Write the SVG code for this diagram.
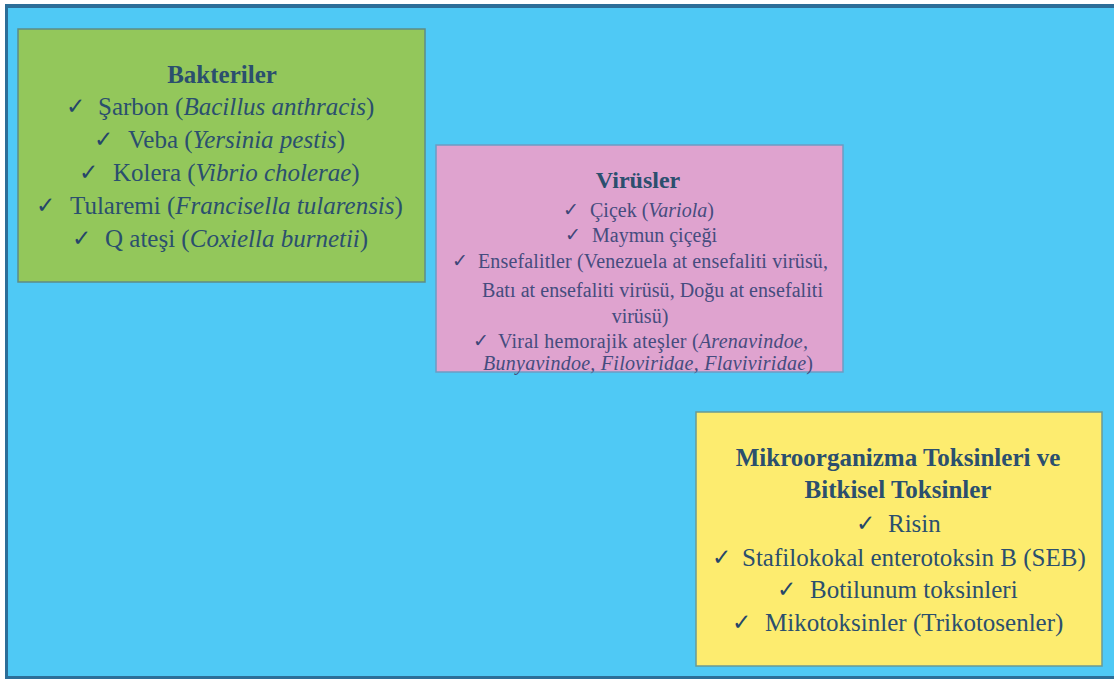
<svg xmlns="http://www.w3.org/2000/svg" width="1114" height="679" viewBox="0 0 1114 679">
<style>
.t{font-family:"Liberation Serif","Times New Roman",serif;font-size:25px;fill:#2B4F6E}
.h{font-weight:bold;text-anchor:middle}
.c{font-family:"DejaVu Sans",sans-serif;font-size:23px;fill:#26466A}
.pc{font-family:"DejaVu Sans",sans-serif;font-size:19px;fill:#3E4678}
.p{font-family:"Liberation Serif","Times New Roman",serif;font-size:20px;fill:#454C7E}
.i{font-style:italic}
.box{stroke-width:1.5}
</style>
<rect x="0" y="0" width="1114" height="679" fill="#ffffff"/>
<rect x="6" y="5" width="1108" height="674" fill="#4FC9F5"/>
<rect x="6" y="4" width="1108" height="4" fill="#2C6E98"/>
<rect x="5" y="4" width="3" height="675" fill="#2C6E98"/>
<rect x="6" y="676" width="1108" height="3" fill="#2C6E98"/>

<g id="bakteriler">
<rect class="box" x="18" y="29" width="407" height="253" fill="#93C75B" stroke="#5E8C86"/>
<text class="t h" x="222" y="83">Bakteriler</text>
<text class="c" x="66" y="114">✓</text><text class="t" x="98" y="115">Şarbon (<tspan class="i">Bacillus anthracis</tspan>)</text>
<text class="c" x="94" y="147">✓</text><text class="t" x="128" y="148">Veba (<tspan class="i">Yersinia pestis</tspan>)</text>
<text class="c" x="79" y="180">✓</text><text class="t" x="113" y="181">Kolera (<tspan class="i">Vibrio cholerae</tspan>)</text>
<text class="c" x="36" y="213">✓</text><text class="t" x="70" y="214">Tularemi (<tspan class="i">Francisella tularensis</tspan>)</text>
<text class="c" x="72" y="246">✓</text><text class="t" x="105" y="247">Q ateşi (<tspan class="i">Coxiella burnetii</tspan>)</text>
</g>

<g id="virusler">
<rect class="box" x="436" y="145" width="407" height="227" fill="#DFA3CF" stroke="#6C9CC4"/>
<text class="t h" x="638" y="188" style="font-size:24px">Virüsler</text>
<text class="pc" x="563" y="216">✓</text><text class="p" x="590" y="217">Çiçek (<tspan class="i">Variola</tspan>)</text>
<text class="pc" x="565" y="241">✓</text><text class="p" x="592" y="242">Maymun çiçeği</text>
<text class="pc" x="452" y="267">✓</text><text class="p" x="478" y="268" textLength="350" lengthAdjust="spacing">Ensefalitler (Venezuela at ensefaliti virüsü,</text>
<text class="p" x="482" y="297" textLength="341" lengthAdjust="spacing">Batı at ensefaliti virüsü, Doğu at ensefaliti</text>
<text class="p" x="640" y="323" text-anchor="middle">virüsü)</text>
<text class="pc" x="473" y="347">✓</text><text class="p" x="498" y="348" textLength="310" lengthAdjust="spacing">Viral hemorajik ateşler (<tspan class="i">Arenavindoe,</tspan></text>
<text class="p i" x="483" y="370" textLength="330" lengthAdjust="spacing">Bunyavindoe, Filoviridae, Flaviviridae<tspan style="font-style:normal">)</tspan></text>
</g>

<g id="toksinler">
<rect class="box" x="696" y="412" width="406" height="254" fill="#FDEC6F" stroke="#6B9A92"/>
<text class="t h" x="898" y="466">Mikroorganizma Toksinleri ve</text>
<text class="t h" x="898" y="498">Bitkisel Toksinler</text>
<text class="c" x="856" y="531">✓</text><text class="t" x="888" y="532">Risin</text>
<text class="c" x="712" y="565">✓</text><text class="t" x="742" y="566">Stafilokokal enterotoksin B (SEB)</text>
<text class="c" x="777" y="597">✓</text><text class="t" x="810" y="598">Botilunum toksinleri</text>
<text class="c" x="732" y="630">✓</text><text class="t" x="765" y="631">Mikotoksinler (Trikotosenler)</text>
</g>
</svg>
